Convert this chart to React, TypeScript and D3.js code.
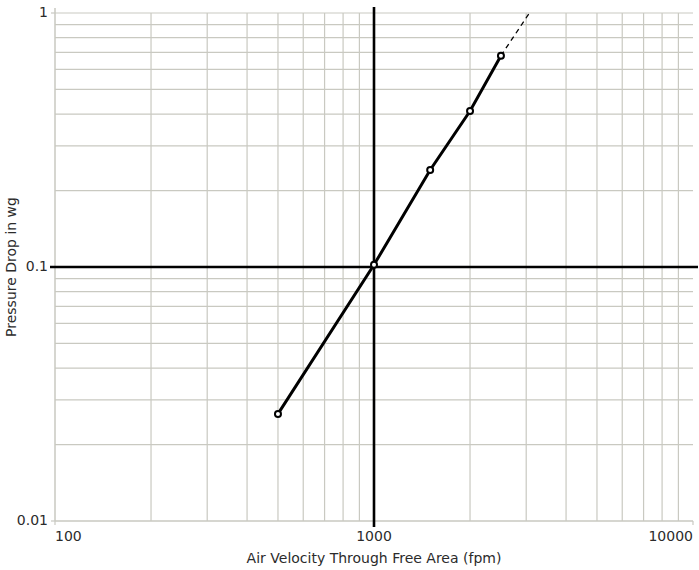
import * as d3 from "d3";
import React from "react";

// measured points (fpm, in wg)
const velocity = [500, 1000, 1500, 2000, 2500];
const pressure = [0.0264, 0.102, 0.241, 0.411, 0.679];
// dashed extrapolation beyond last measured point
const extVelocity = [2500, 3070];
const extPressure = [0.679, 1.0];

const xTicks = [100, 1000, 10000];
const yTicks = [0.01, 0.1, 1];

const FONT = "'DejaVu Sans', sans-serif";
const GRID = "#c9c9c1";

const App = () => {
  const ref = React.useRef<SVGSVGElement>(null);

  React.useEffect(() => {
    const margin = { top: 13, right: 6, bottom: 49, left: 55 },
      width = 699 - margin.left - margin.right,
      height = 570 - margin.top - margin.bottom;

    const svg = d3.select(ref.current);
    svg.selectAll("*").remove();
    svg.attr("width", 699).attr("height", 570);

    const graph = svg
      .append("g")
      .attr("transform", `translate(${margin.left},${margin.top})`);

    const x = d3.scaleLog().domain([100, 10000]).range([0, width]);
    const y = d3.scaleLog().domain([0.01, 1]).range([height, 0]);

    // minor grid on every 1..9 multiple
    const xGrid = x.ticks().filter((d) => d > 100 && d < 10000);
    const yGrid = y.ticks().filter((d) => d > 0.01);

    graph
      .selectAll(".vgrid")
      .data(xGrid)
      .enter()
      .append("line")
      .attr("x1", (d) => x(d))
      .attr("x2", (d) => x(d))
      .attr("y1", 0)
      .attr("y2", height)
      .attr("stroke", GRID)
      .attr("stroke-width", 1.2);

    graph
      .selectAll(".hgrid")
      .data(yGrid)
      .enter()
      .append("line")
      .attr("x1", 0)
      .attr("x2", width)
      .attr("y1", (d) => y(d))
      .attr("y2", (d) => y(d))
      .attr("stroke", GRID)
      .attr("stroke-width", 1.2);

    // axis lines
    graph
      .append("line")
      .attr("x1", 0)
      .attr("x2", 0)
      .attr("y1", -5)
      .attr("y2", height)
      .attr("stroke", GRID)
      .attr("stroke-width", 1.5);
    graph
      .append("line")
      .attr("x1", 0)
      .attr("x2", width)
      .attr("y1", height)
      .attr("y2", height)
      .attr("stroke", GRID)
      .attr("stroke-width", 1.5);

    // tick marks
    graph
      .selectAll(".ytick")
      .data(yTicks)
      .enter()
      .append("line")
      .attr("x1", -4)
      .attr("x2", 0)
      .attr("y1", (d) => y(d))
      .attr("y2", (d) => y(d))
      .attr("stroke", GRID)
      .attr("stroke-width", 1.2);
    graph
      .selectAll(".xtick")
      .data(xTicks)
      .enter()
      .append("line")
      .attr("x1", (d) => x(d))
      .attr("x2", (d) => x(d))
      .attr("y1", height)
      .attr("y2", height + 4)
      .attr("stroke", GRID)
      .attr("stroke-width", 1.2);

    // bold reference lines at 1000 fpm and 0.1 in wg
    graph
      .append("line")
      .attr("x1", x(1000))
      .attr("x2", x(1000))
      .attr("y1", -6)
      .attr("y2", height + 6)
      .attr("stroke", "#000")
      .attr("stroke-width", 2.6);
    graph
      .append("line")
      .attr("x1", -5)
      .attr("x2", width + 5)
      .attr("y1", y(0.1))
      .attr("y2", y(0.1))
      .attr("stroke", "#000")
      .attr("stroke-width", 2.6);

    // tick labels
    graph
      .selectAll(".ylab")
      .data(yTicks)
      .enter()
      .append("text")
      .text((d) => String(d))
      .attr("x", -7)
      .attr("y", (d) => y(d))
      .attr("text-anchor", "end")
      .attr("dominant-baseline", "middle")
      .attr("font-family", FONT)
      .attr("font-size", 14)
      .attr("fill", "#2b2b2b");

    graph
      .selectAll(".xlab")
      .data(xTicks)
      .enter()
      .append("text")
      .text((d) => String(d))
      .attr("x", (d) => x(d))
      .attr("y", height + 20)
      .attr("text-anchor", (d) => (d === 100 ? "start" : d === 10000 ? "end" : "middle"))
      .attr("font-family", FONT)
      .attr("font-size", 14)
      .attr("fill", "#2b2b2b");

    // axis titles
    graph
      .append("text")
      .text("Air Velocity Through Free Area (fpm)")
      .attr("x", x(1000))
      .attr("y", height + 42)
      .attr("text-anchor", "middle")
      .attr("font-family", FONT)
      .attr("font-size", 14)
      .attr("fill", "#2b2b2b");

    graph
      .append("text")
      .text("Pressure Drop in wg")
      .attr("transform", `translate(${-39},${y(0.1)}) rotate(-90)`)
      .attr("text-anchor", "middle")
      .attr("font-family", FONT)
      .attr("font-size", 14)
      .attr("fill", "#2b2b2b");

    // dashed extrapolation
    const ext = d3.zip(extVelocity, extPressure);
    graph
      .append("path")
      .datum(ext)
      .attr("fill", "none")
      .attr("stroke", "#000")
      .attr("stroke-width", 1.3)
      .attr("stroke-dasharray", "5,4")
      .attr(
        "d",
        d3
          .line<number[]>()
          .x((d) => x(d[0]))
          .y((d) => y(d[1]))
      );

    // measured curve
    const pts = d3.zip(velocity, pressure);
    graph
      .append("path")
      .datum(pts)
      .attr("fill", "none")
      .attr("stroke", "#000")
      .attr("stroke-width", 3)
      .attr(
        "d",
        d3
          .line<number[]>()
          .x((d) => x(d[0]))
          .y((d) => y(d[1]))
      );

    graph
      .selectAll(".pt")
      .data(pts)
      .enter()
      .append("circle")
      .attr("cx", (d) => x(d[0]))
      .attr("cy", (d) => y(d[1]))
      .attr("r", 3)
      .attr("fill", "#fff")
      .attr("stroke", "#000")
      .attr("stroke-width", 2);
  }, []);

  return (
    <div style={{ position: "absolute", left: 0, top: 0 }}>
      <svg ref={ref} style={{ display: "block" }} />
    </div>
  );
};

export default App;
